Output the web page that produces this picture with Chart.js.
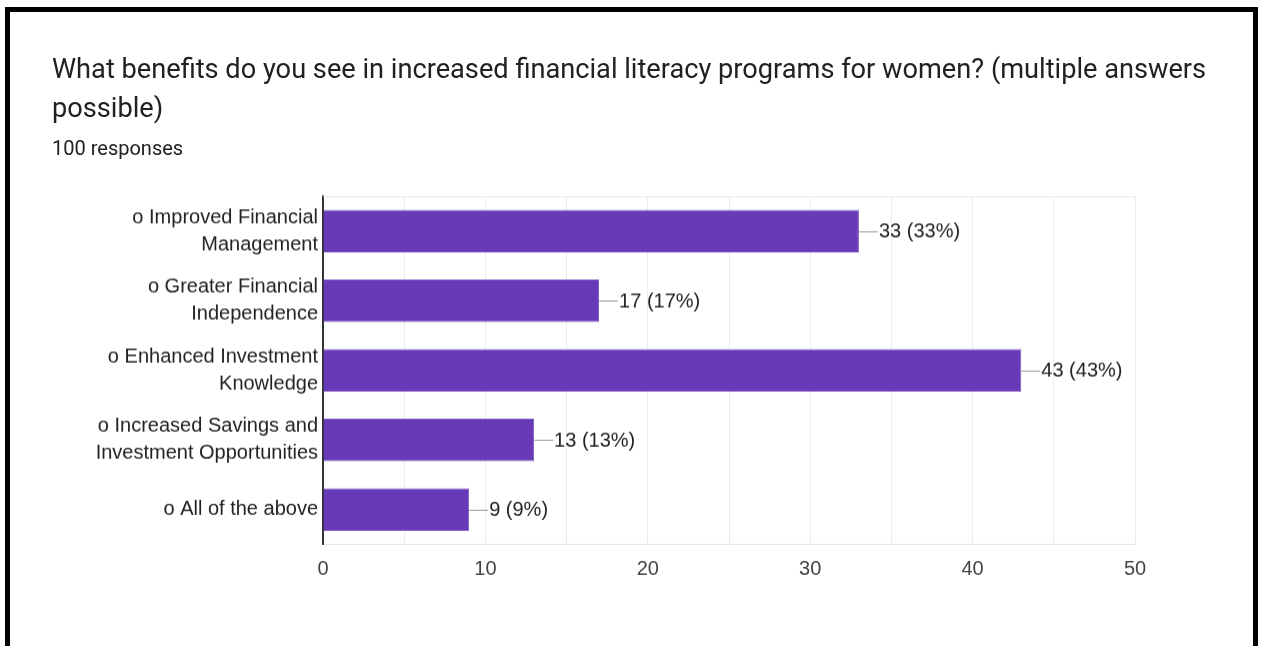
<!DOCTYPE html>
<html>
<head>
<meta charset="utf-8">
<script src="https://cdn.jsdelivr.net/npm/chart.js@4"></script>
<style>
  html, body { margin: 0; padding: 0; background: #fff; }
  body { width: 1263px; height: 646px; position: relative; overflow: hidden; }
  #frame {
    position: absolute; left: 5px; top: 7px; width: 1243px; height: 700px;
    border: 5px solid #000; border-bottom: none; z-index: 2; pointer-events: none;
  }
  #title {
    position: absolute; left: 52px; top: 50px; width: 1190px;
    font-family: Roboto, "Noto Sans", sans-serif; font-size: 27.2px; line-height: 39px;
    color: #202124; z-index: 3;
  }
  #count {
    position: absolute; left: 52px; top: 136px;
    font-family: Roboto, "Noto Sans", sans-serif; font-size: 20px; color: #202124; z-index: 3;
  }
  #wrap { position: absolute; left: 0; top: 0; width: 1263px; height: 646px; }
</style>
</head>
<body>
<div id="frame"></div>
<div id="title">What benefits do you see in increased financial literacy programs for women? (multiple answers possible)</div>
<div id="count">100 responses</div>
<div id="wrap"><canvas id="benefitsChart"></canvas></div>
<script>
var totalResponses = 100;
var benefits = [
  ["o Improved Financial", "Management"],
  ["o Greater Financial", "Independence"],
  ["o Enhanced Investment", "Knowledge"],
  ["o Increased Savings and", "Investment Opportunities"],
  "o All of the above"
];
var counts = [33, 17, 43, 13, 9];
var xTicks = [0, 10, 20, 30, 40, 50];

var fontFamily = '"Liberation Sans", Arial, sans-serif';
var labelFont = '20px ' + fontFamily;

// leader line + "n (p%)" next to each bar, plus the light frame line on top
var valueLabels = {
  id: "valueLabels",
  afterDatasetsDraw: function(chart) {
    var ctx = chart.ctx;
    var area = chart.chartArea;
    ctx.save();
    ctx.strokeStyle = "#e6e6e6";
    ctx.lineWidth = 1;
    ctx.beginPath();
    ctx.moveTo(area.left, area.top + 0.5);
    ctx.lineTo(area.right, area.top + 0.5);
    ctx.stroke();

    var meta = chart.getDatasetMeta(0);
    ctx.font = labelFont;
    ctx.fillStyle = "#222";
    ctx.textBaseline = "middle";
    meta.data.forEach(function(bar, i) {
      var v = counts[i];
      var y = Math.round(bar.y) + 0.5;
      ctx.strokeStyle = "#999";
      ctx.beginPath();
      ctx.moveTo(bar.x, y);
      ctx.lineTo(bar.x + 19, y);
      ctx.stroke();
      ctx.fillText(v + " (" + Math.round(v / totalResponses * 100) + "%)", bar.x + 20, bar.y + 1);
    });
    ctx.restore();
  }
};

var ctx = document.getElementById("benefitsChart").getContext("2d");
var chart = new Chart(ctx, {
  type: "bar",
  data: {
    labels: benefits,
    datasets: [{
      data: counts,
      backgroundColor: "#673ab7",
      borderColor: "#7e57c2",
      borderWidth: 1,
      categoryPercentage: 1,
      barPercentage: 0.615
    }]
  },
  options: {
    indexAxis: "y",
    responsive: false,
    animation: false,
    layout: { padding: { top: 196, right: 128, bottom: 32, left: 0 } },
    plugins: { legend: { display: false }, tooltip: { enabled: false } },
    scales: {
      x: {
        min: 0, max: 50,
        afterFit: function(s) { s.height = 56; },
        afterBuildTicks: function(s) {
          s.ticks = [0, 5, 10, 15, 20, 25, 30, 35, 40, 45, 50].map(function(v) { return { value: v }; });
        },
        grid: { color: "#ebebeb", drawTicks: false },
        border: { color: "#e6e6e6" },
        ticks: {
          padding: 13,
          color: "#444",
          font: { family: fontFamily, size: 20 },
          callback: function(v) { return xTicks.indexOf(v) >= 0 ? String(v) : ""; }
        }
      },
      y: {
        afterFit: function(s) { s.width = 323; },
        grid: { display: false, drawTicks: false },
        border: { color: "#333", width: 2 },
        ticks: {
          padding: 5,
          color: "#222",
          font: { family: fontFamily, size: 20, lineHeight: 1.35 }
        }
      }
    }
  },
  plugins: [valueLabels]
});
chart.resize(1263, 646);
</script>
</body>
</html>
